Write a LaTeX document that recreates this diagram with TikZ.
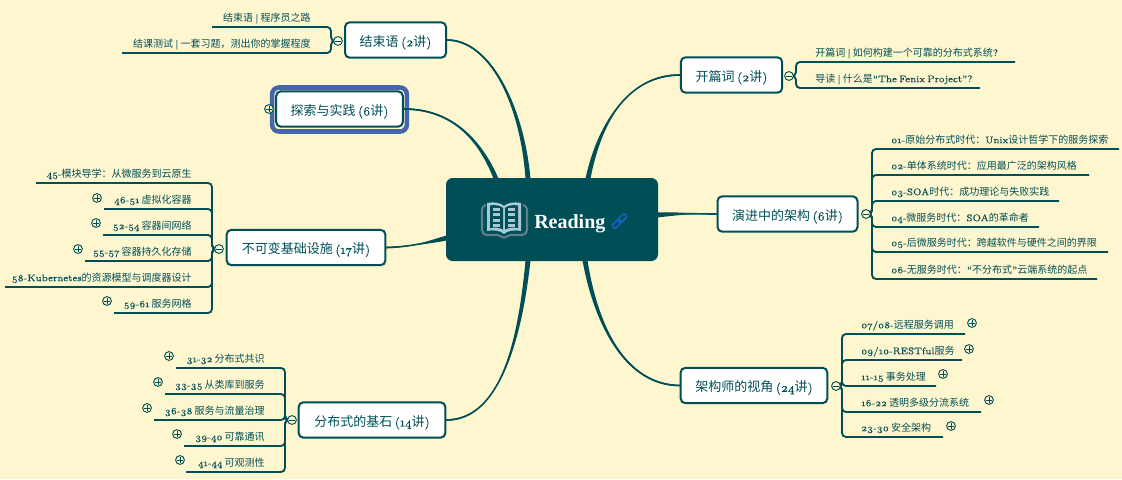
\documentclass[tikz,border=0pt]{standalone}
\usepackage{fontspec}
\setmainfont{Latin Modern Roman}[Numbers=OldStyle,Scale=.96,FakeBold=.25,WordSpace=.6]
\newfontfamily\cjk{Noto Sans CJK SC}
\newfontfamily\reading{Liberation Serif}[Scale=1]
\usetikzlibrary{calc}
\definecolor{ink}{HTML}{004F57}
\definecolor{paper}{HTML}{FEF6CF}
\definecolor{sel}{HTML}{4466A8}
\definecolor{linkblue}{HTML}{1565C0}
\definecolor{bookgrey}{HTML}{5F7F8C}
\definecolor{booklight}{HTML}{A9C9D3}
\newcommand{\C}[1]{{\cjk #1}}
\tikzset{
  x=.75pt,y=-.75pt,
  topic/.style={draw=ink,line width=1.5pt,fill=white,rounded corners=3.5pt,text=ink,inner sep=0pt,text height=9.6pt,text depth=0pt,font=\fontsize{9.75}{12}\selectfont},
  kid/.style={text=ink,inner sep=0pt,text height=7pt,text depth=0pt,font=\fontsize{7.5}{9}\selectfont},
  kidl/.style={kid,anchor=west},
  kidr/.style={kid,anchor=east},
  br/.style={draw=ink,line width=1.4pt,rounded corners=3pt},
  tog/.style={circle,draw=ink,line width=.7pt,fill=paper,minimum size=6.6pt,inner sep=0pt},
  minusc/.style={tog,path picture={\draw[ink,line width=.5pt] ([xshift=1.4pt]path picture bounding box.west) -- ([xshift=-1.4pt]path picture bounding box.east);}},
  plusc/.style={tog,path picture={\draw[ink,line width=.5pt] ([xshift=1.4pt]path picture bounding box.west) -- ([xshift=-1.4pt]path picture bounding box.east) ([yshift=1.4pt]path picture bounding box.south) -- ([yshift=-1.4pt]path picture bounding box.north);}},
}
% #1 root end, #2 c1, #3 c2, #4 topic end, #5 half width at root
\newcommand{\taper}[5]{%
  \fill[ink] ($(#1)+(#5)$) .. controls ($(#2)+0.7*(#5)$) and ($(#3)+(0,-.9)$) .. ($(#4)+(0,-.8)$) -- ($(#4)+(0,.8)$) .. controls ($(#3)+(0,.9)$) and ($(#2)-0.7*(#5)$) .. ($(#1)-(#5)$) -- cycle;
  \draw[ink,line width=1.2pt] (#1) .. controls (#2) and (#3) .. (#4);}
% #1 name, #2 toggle, #3 x of bracket, #4 far end x, #5 y of line, #6 style, #7 text x, #8 text
\newcommand{\kidnode}[8]{%
  \coordinate (#1a) at (#3,#5);
  \coordinate (#1b) at (#4,#5);
  \node[#6] (#1) at (#7,#5-10.5) {#8};
  \draw[br] (#2.center) -- (#2.center -| #1a) -- (#1a) -- (#1b);
}
\begin{document}
\begin{tikzpicture}
\useasboundingbox (0,0) rectangle (1122,479);
\fill[paper] (0,0) rectangle (1122,479);

% root
\node[fill=ink,rounded corners=5pt,minimum width=159pt,minimum height=62.25pt,inner sep=0pt] (root) at (552,219.5) {};
\node[anchor=west,text=white,inner sep=0pt,text height=11pt,text depth=0pt,font=\reading\bfseries\fontsize{15}{18}\selectfont] (rootlabel) at (534,221) {Reading};

% book icon
\draw[bookgrey,line width=1.6pt,rounded corners=2pt,line join=round] (486,205) -- (482,207) -- (482,232) -- (485,235) -- (499,235) -- (504,238.5) -- (509,235) -- (524,235) -- (527,232) -- (527,207) -- (523,205);
\fill[booklight] (487,203) .. controls (495,201.5) and (501,203) .. (504,206) .. controls (507,203) and (513,201.5) .. (521,203) -- (521,231) .. controls (513,229.5) and (507,231) .. (504,234) .. controls (501,231) and (495,229.5) .. (487,231) -- cycle;
\fill[ink] (490,205.5) .. controls (495,204.5) and (500,205.5) .. (503,208) -- (503,229.5) .. controls (500,227.8) and (495,227) .. (490,228) -- cycle;
\fill[ink] (505,208) .. controls (508,205.5) and (513,204.5) .. (518,205.5) -- (518,228) .. controls (513,227) and (508,227.8) .. (505,229.5) -- cycle;
\foreach \yy in {207.5,213,218.5,223.5}{
  \fill[booklight] (493,\yy) rectangle (500,\yy+3.2);
  \fill[booklight] (508,\yy) rectangle (515,\yy+3.2);
}
% link icon
\begin{scope}[shift={(619.5,221)},rotate=45]
\draw[linkblue,line width=1.1pt,rounded corners=1.6pt] (-9,-2.4) rectangle (0.8,2.4);
\draw[linkblue,line width=1.1pt,rounded corners=1.6pt] (-0.8,-2.4) rectangle (9,2.4);
\end{scope}

% topics
\node[topic,minimum width=75.75pt,minimum height=26.5pt] (t1) at (395.5,40) {\C{结束语} (2\C{讲})};
\node[draw=sel,line width=3.4pt,rounded corners=5pt,minimum width=101pt,minimum height=33pt,inner sep=0pt] (sel) at (339.5,109.5) {};
\node[topic,minimum width=95pt,minimum height=26.5pt] (t2) at (339.5,109) {\C{探索与实践} (6\C{讲})};
\node[topic,minimum width=119pt,minimum height=26.5pt] (t3) at (306,247.5) {\C{不可变基础设施} (17\C{讲})};
\node[topic,minimum width=110pt,minimum height=26.5pt] (t4) at (372,420) {\C{分布式的基石} (14\C{讲})};
\node[topic,minimum width=76pt,minimum height=26.5pt] (t5) at (731.5,75) {\C{开篇词} (2\C{讲})};
\node[topic,minimum width=105pt,minimum height=26.5pt] (t6) at (787.5,214) {\C{演进中的架构} (6\C{讲})};
\node[topic,minimum width=110pt,minimum height=26.5pt] (t7) at (754,385.5) {\C{架构师的视角} (24\C{讲})};

% main connectors
\coordinate (r1) at (528,178.5);
\coordinate (r2) at (496,178.5);
\coordinate (r3) at (446.5,238);
\coordinate (r4) at (528,260.5);
\coordinate (r5) at (588,178.5);
\coordinate (r6) at (657.5,215);
\coordinate (r7) at (585,260.5);
\coordinate (c1a) at (522,105); \coordinate (c1b) at (490,40);
\coordinate (c2a) at (478,135); \coordinate (c2b) at (448,109);
\coordinate (c3a) at (430,242); \coordinate (c3b) at (410,247);
\coordinate (c4a) at (520,340); \coordinate (c4b) at (500,420);
\coordinate (c5a) at (600,120); \coordinate (c5b) at (630,75);
\coordinate (c6a) at (680,213); \coordinate (c6b) at (700,214);
\coordinate (c7a) at (596,325); \coordinate (c7b) at (625,385);
\taper{r1}{c1a}{c1b}{t1.east}{2.5,0}
\taper{r2}{c2a}{c2b}{t2.east}{2.5,0}
\taper{r3}{c3a}{c3b}{t3.east}{0,2.5}
\taper{r4}{c4a}{c4b}{t4.east}{2.5,0}
\taper{r5}{c5a}{c5b}{t5.west}{2.5,0}
\taper{r6}{c6a}{c6b}{t6.west}{0,2.5}
\taper{r7}{c7a}{c7b}{t7.west}{2.5,0}

% toggle positions
\coordinate (m1) at (338,41);
\coordinate (m3) at (219,249);
\coordinate (m4) at (292,420);
\coordinate (m5) at (789,76);
\coordinate (m6) at (866,214);
\coordinate (m7) at (836,386);

% children: closing
\kidnode{a1}{m1}{331}{212}{27}{kidr}{311}{\C{结束语} | \C{程序员之路}}
\kidnode{a2}{m1}{331}{122}{53}{kidr}{311}{\C{结课测试} | \C{一套习题，测出你的掌握程度}}
% children: infrastructure
\kidnode{c1}{m3}{212}{36}{183}{kidr}{192}{45-\C{模块导学：从微服务到云原生}}
\kidnode{c2}{m3}{212}{104}{209}{kidr}{192}{46-51 \C{虚拟化容器}}
\kidnode{c3}{m3}{212}{103}{235}{kidr}{192}{52-54 \C{容器间网络}}
\kidnode{c4}{m3}{212}{85}{261}{kidr}{192}{55-57 \C{容器持久化存储}}
\kidnode{c5}{m3}{212}{5}{287}{kidr}{192}{58-Kubernetes\C{的资源模型与调度器设计}}
\kidnode{c6}{m3}{212}{114}{313}{kidr}{192}{59-61 \C{服务网格}}
% children: distributed
\kidnode{d1}{m4}{285}{176}{368}{kidr}{265}{31-32 \C{分布式共识}}
\kidnode{d2}{m4}{285}{165}{394}{kidr}{265}{33-35 \C{从类库到服务}}
\kidnode{d3}{m4}{285}{154}{420}{kidr}{265}{36-38 \C{服务与流量治理}}
\kidnode{d4}{m4}{285}{184}{446}{kidr}{265}{39-40 \C{可靠通讯}}
\kidnode{d5}{m4}{285}{186}{472}{kidr}{265}{41-44 \C{可观测性}}
% children: opening
\kidnode{e1}{m5}{796}{1015}{62}{kidl}{815}{\C{开篇词} | \C{如何构建一个可靠的分布式系统}?}
\kidnode{e2}{m5}{796}{980}{88}{kidl}{815}{\C{导读} | \C{什么是}“The Fenix Project”?}
% children: evolution
\kidnode{f1}{m6}{872}{1119}{149}{kidl}{891}{01-\C{原始分布式时代：}Unix\C{设计哲学下的服务探索}}
\kidnode{f2}{m6}{872}{1089}{175}{kidl}{891}{02-\C{单体系统时代：应用最广泛的架构风格}}
\kidnode{f3}{m6}{872}{1059}{201}{kidl}{891}{03-SOA\C{时代：成功理论与失败实践}}
\kidnode{f4}{m6}{872}{1039}{227}{kidl}{891}{04-\C{微服务时代：}SOA\C{的革命者}}
\kidnode{f5}{m6}{872}{1108}{252}{kidl}{891}{05-\C{后微服务时代：跨越软件与硬件之间的界限}}
\kidnode{f6}{m6}{872}{1097}{279}{kidl}{891}{06-\C{无服务时代：}“\C{不分布式}”\C{云端系统的起点}}
% children: architect
\kidnode{g1}{m7}{842}{965}{334}{kidl}{861}{07/08-\C{远程服务调用}}
\kidnode{g2}{m7}{842}{962}{360}{kidl}{861}{09/10-RESTful\C{服务}}
\kidnode{g3}{m7}{842}{936}{386}{kidl}{861}{11-15 \C{事务处理}}
\kidnode{g4}{m7}{842}{981}{412}{kidl}{861}{16-22 \C{透明多级分流系统}}
\kidnode{g5}{m7}{842}{943}{437}{kidl}{861}{23-30 \C{安全架构}}

% collapse toggles
\node[minusc] (mm1) at (m1) {};
\node[minusc] (mm3) at (m3) {};
\node[minusc] (mm4) at (m4) {};
\node[minusc] (mm5) at (m5) {};
\node[minusc] (mm6) at (m6) {};
\node[minusc] (mm7) at (m7) {};
% expand toggles
\node[plusc] (p0) at (269,109) {};
\node[plusc] (p1) at (97,198) {};
\node[plusc] (p2) at (96,223) {};
\node[plusc] (p3) at (78,249) {};
\node[plusc] (p4) at (107,301) {};
\node[plusc] (p5) at (169,356) {};
\node[plusc] (p6) at (158,382) {};
\node[plusc] (p7) at (147,408) {};
\node[plusc] (p8) at (177,434) {};
\node[plusc] (p9) at (180,460) {};
\node[plusc] (p10) at (972,323) {};
\node[plusc] (p11) at (969,349) {};
\node[plusc] (p12) at (943,374) {};
\node[plusc] (p13) at (989,400) {};
\node[plusc] (p14) at (951,426) {};
\end{tikzpicture}
\end{document}
